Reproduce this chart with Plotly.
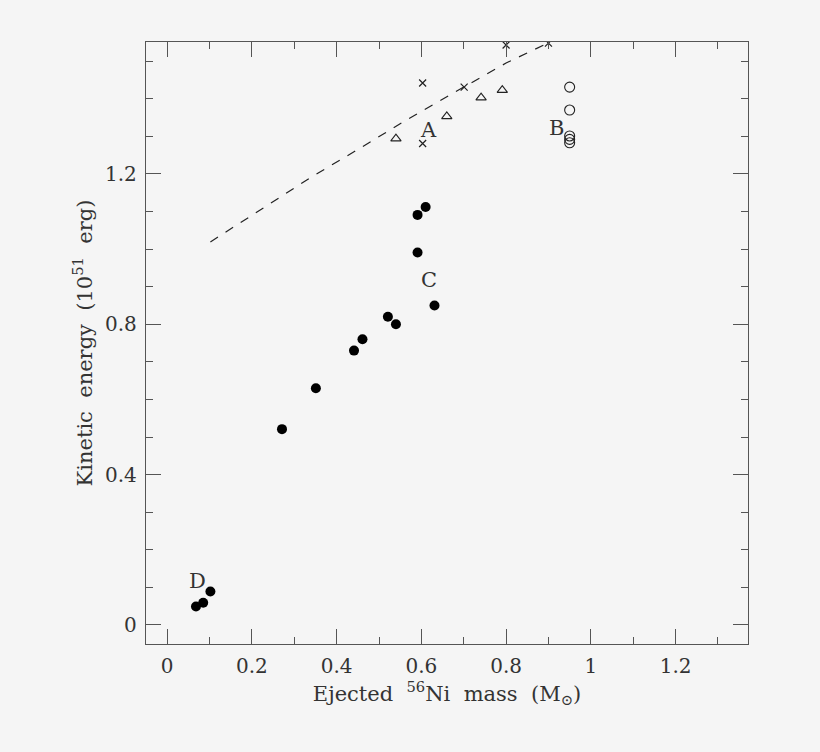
import plotly.graph_objects as go

# Filled circles (C / D groups and the main sequence)
ni_filled = [0.068, 0.085, 0.102, 0.271, 0.351, 0.441, 0.461, 0.521, 0.540, 0.631, 0.591, 0.591, 0.610]
ek_filled = [0.049, 0.059, 0.089, 0.521, 0.630, 0.730, 0.760, 0.820, 0.800, 0.850, 0.991, 1.091, 1.112]

# Crosses (group A)
ni_cross = [0.603, 0.603, 0.701, 0.800, 0.900]
ek_cross = [1.442, 1.281, 1.431, 1.543, 1.548]

# Open triangles (group A)
ni_tri = [0.540, 0.660, 0.741, 0.791]
ek_tri = [1.294, 1.353, 1.403, 1.423]

# Open circles (group B)
ni_open = [0.950, 0.950, 0.950, 0.950, 0.950]
ek_open = [1.431, 1.370, 1.301, 1.292, 1.283]

# Dashed curve
ni_curve = [0.102, 0.22, 0.338, 0.45, 0.558, 0.70, 0.80, 0.900]
ek_curve = [1.019, 1.105, 1.190, 1.265, 1.339, 1.431, 1.495, 1.549]

# Group labels
label_text = ["A", "B", "C", "D"]
label_x = [0.617, 0.919, 0.618, 0.071]
label_y = [1.317, 1.322, 0.918, 0.118]

FONT = "DejaVu Serif"
INK = "#333333"
AXIS = "#555555"
BG = "#f5f5f5"
SP = "\u00a0\u00a0"  # wide word gaps like the original

fig = go.Figure()

fig.add_trace(go.Scatter(x=ni_curve, y=ek_curve, mode="lines",
                         line=dict(color="#222222", width=1.2, dash="dash"),
                         showlegend=False))
fig.add_trace(go.Scatter(x=ni_filled, y=ek_filled, mode="markers",
                         marker=dict(symbol="circle", size=10, color="black"),
                         showlegend=False))
fig.add_trace(go.Scatter(x=ni_cross, y=ek_cross, mode="markers",
                         marker=dict(symbol="x-thin", size=7,
                                     line=dict(color="#222222", width=1.2)),
                         showlegend=False))
fig.add_trace(go.Scatter(x=ni_tri, y=ek_tri, mode="markers",
                         marker=dict(symbol="triangle-up-open", size=9,
                                     color="#222222", line=dict(width=1.1)),
                         showlegend=False))
fig.add_trace(go.Scatter(x=ni_open, y=ek_open, mode="markers",
                         marker=dict(symbol="circle-open", size=10,
                                     color="#222222", line=dict(width=1.1)),
                         showlegend=False))

for t, x, y in zip(label_text, label_x, label_y):
    fig.add_annotation(x=x, y=y, text=t, showarrow=False,
                       font=dict(family=FONT, size=21, color=INK))

axis_common = dict(
    showgrid=False, zeroline=False, showline=True, linecolor=AXIS, linewidth=1.3,
    mirror="ticks", ticks="inside", ticklen=15, tickwidth=1.2, tickcolor=AXIS,
    tickfont=dict(family=FONT, size=20, color=INK),
    minor=dict(ticks="inside", ticklen=7, tickwidth=1.1, tickcolor=AXIS, dtick=0.1),
)

fig.update_xaxes(range=[-0.05, 1.371], tick0=0, dtick=0.2, ticklabelstandoff=4,
                 title=dict(text="Ejected" + SP + "<sup>56</sup>Ni" + SP + "mass" + SP + "(M<sub>⊙</sub>)",
                            font=dict(family=FONT, size=21, color=INK), standoff=6),
                 **axis_common)
fig.update_yaxes(range=[-0.0506, 1.551], tickvals=[0, 0.4, 0.8, 1.2],
                 ticktext=["0", "0.4", "0.8", "1.2"], ticklabelstandoff=4,
                 title=dict(text="Kinetic" + SP + "energy" + SP + "(10<sup>51</sup>" + SP + "erg)",
                            font=dict(family=FONT, size=21, color=INK), standoff=6),
                 **axis_common)

fig.update_layout(
    width=820, height=752,
    margin=dict(l=146, r=72, t=42, b=108),
    paper_bgcolor=BG, plot_bgcolor=BG,
)

# drop the page margin so the figure sits at the window origin
fig.write_html("out.html", config={"displayModeBar": False},
               post_script="document.body.style.margin='0';"
               "document.body.style.background='" + BG + "';")
